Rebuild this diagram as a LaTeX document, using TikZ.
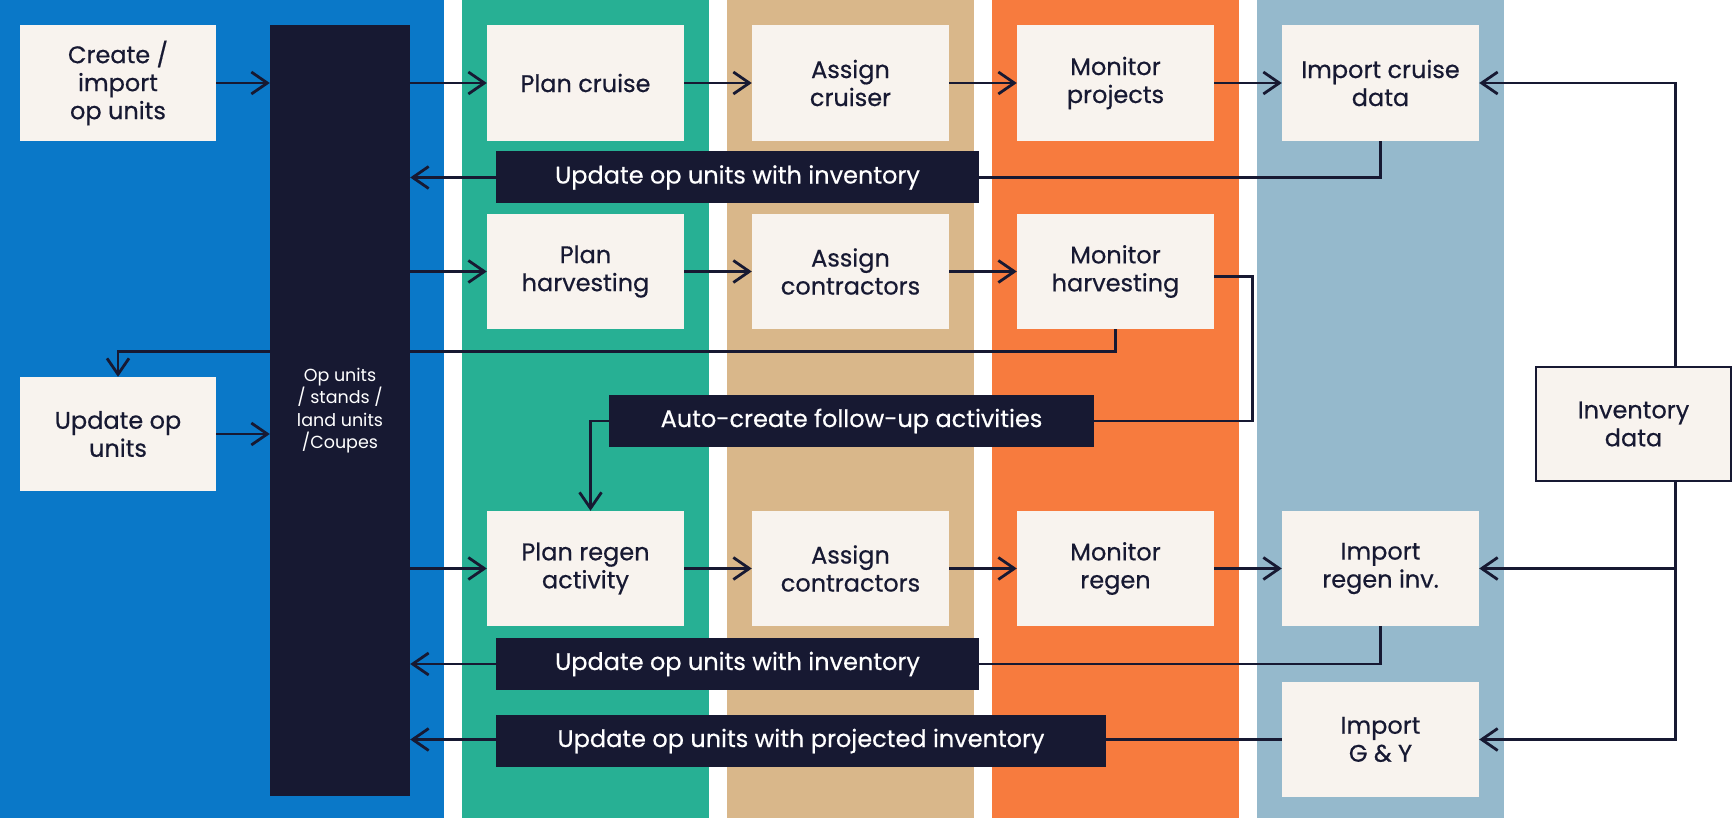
\documentclass[tikz,border=0pt]{standalone}
\usepackage{fontspec}
\setmainfont{Poppins}
\newfontfamily\medfont{Poppins}[UprightFeatures={FakeBold=0.5}]
\usetikzlibrary{arrows.meta,backgrounds}
\pgfdeclarelayer{lines}
\pgfsetlayers{background,lines,main}
\definecolor{cblue}{HTML}{0A78C8}
\definecolor{cgreen}{HTML}{27B094}
\definecolor{ctan}{HTML}{D9B78A}
\definecolor{corange}{HTML}{F77B3E}
\definecolor{clblue}{HTML}{95B9CC}
\definecolor{boxfill}{HTML}{F8F3EE}
\definecolor{ink}{HTML}{171932}
\begin{document}
\begin{tikzpicture}[x=1pt,y=-1pt,
  box/.style={fill=boxfill, text=ink, minimum width=197pt, minimum height=116pt, align=center, inner sep=0pt, font=\medfont\fontsize{24}{28}\selectfont},
  lbl/.style={fill=ink, text=white, minimum height=52pt, inner sep=0pt, font=\medfont\fontsize{24}{28}\selectfont},
  ln/.style={draw=ink, line width=2.8pt},
  arr/.style={ln, -{Straight Barb[length=16pt,width=22pt]}}]
\useasboundingbox (0,0) rectangle (1733,818);
% columns
\begin{pgfonlayer}{background}
\fill[cblue] (0,0) rectangle (444,818);
\fill[cgreen] (462,0) rectangle (709,818);
\fill[ctan] (727,0) rectangle (974,818);
\fill[corange] (992,0) rectangle (1239,818);
\fill[clblue] (1257,0) rectangle (1504,818);
\end{pgfonlayer}
% nodes
\node[box, minimum width=196pt] (create) at (118,83) {Create /\\import\\op units};
\node[fill=ink, text=white, minimum width=140pt, minimum height=771pt, inner sep=0pt, align=center, font=\fontsize{17.5}{22.5}\selectfont] (dark) at (340,410.5) {Op units\\/ stands /\\land units\\/Coupes};
\node[box] (plancruise) at (585.5,83) {Plan cruise};
\node[box] (assigncruiser) at (850.5,83) {Assign\\cruiser};
\node[box] (monproj) at (1115.5,83) {Monitor\\projects};
\node[box] (impcruise) at (1380.5,83) {Import cruise\\data};
\node[lbl, minimum width=483pt] (upd1) at (737.5,177.5) {Update op units with inventory};
\node[box, minimum height=115pt] (planharv) at (585.5,271.5) {Plan\\harvesting};
\node[box, minimum height=115pt] (assigncon1) at (850.5,271.5) {Assign\\contractors};
\node[box, minimum height=115pt] (monharv) at (1115.5,271.5) {Monitor\\harvesting};
\node[box, minimum width=196pt, minimum height=114pt] (updop) at (118,434) {Update op\\units};
\node[lbl, minimum width=485pt] (auto) at (851.5,421) {Auto-create follow-up activities};
\node[box, minimum width=195pt, minimum height=114pt, draw=ink, line width=2.8pt] (inv) at (1633.5,424) {Inventory\\data};
\node[box, minimum height=115pt] (planregen) at (585.5,568.5) {Plan regen\\activity};
\node[box, minimum height=115pt] (assigncon2) at (850.5,568.5) {Assign\\contractors};
\node[box, minimum height=115pt] (monregen) at (1115.5,568.5) {Monitor\\regen};
\node[box, minimum height=115pt] (impregen) at (1380.5,568.5) {Import\\regen inv.};
\node[lbl, minimum width=483pt] (upd2) at (737.5,664) {Update op units with inventory};
\node[lbl, minimum width=610pt] (upd3) at (801,741) {Update op units with projected inventory};
\node[box, minimum height=115pt] (gy) at (1380.5,739.5) {Import\\G \& Y};
% connectors
\begin{pgfonlayer}{lines}
\draw[arr] (create.east) -- (create.east -| dark.west);
\draw[arr] (plancruise.west -| dark.east) -- (plancruise.west);
\draw[arr] (plancruise) -- (assigncruiser);
\draw[arr] (assigncruiser) -- (monproj);
\draw[arr] (monproj) -- (impcruise);
\draw[arr] (impcruise.south) |- (upd1.center -| dark.east);
\draw[arr] (planharv.west -| dark.east) -- (planharv.west);
\draw[arr] (planharv) -- (assigncon1);
\draw[arr] (assigncon1) -- (monharv);
\draw[ln] ([yshift=-5pt]monharv.east) -- ++(38,0) |- (auto.east);
\draw[arr] (auto.west) -| ([xshift=5pt]planregen.north);
\draw[arr] (monharv.south) -- ++(0,22) -| (updop.north);
\draw[arr] (updop.east) -- (updop.east -| dark.west);
\draw[arr] (planregen.west -| dark.east) -- (planregen.west);
\draw[arr] (planregen) -- (assigncon2);
\draw[arr] (assigncon2) -- (monregen);
\draw[arr] (monregen) -- (impregen);
\draw[arr] (impregen.south) |- (upd2.center -| dark.east);
\draw[arr] (gy.west) -- (gy.west -| dark.east);
\draw[arr] ([xshift=42pt]inv.north) |- (impcruise.east);
\draw[arr] ([xshift=42pt]inv.south) |- (impregen.east);
\draw[arr] ([xshift=42pt]inv.south) |- (gy.east);
\end{pgfonlayer}
\end{tikzpicture}
\end{document}
